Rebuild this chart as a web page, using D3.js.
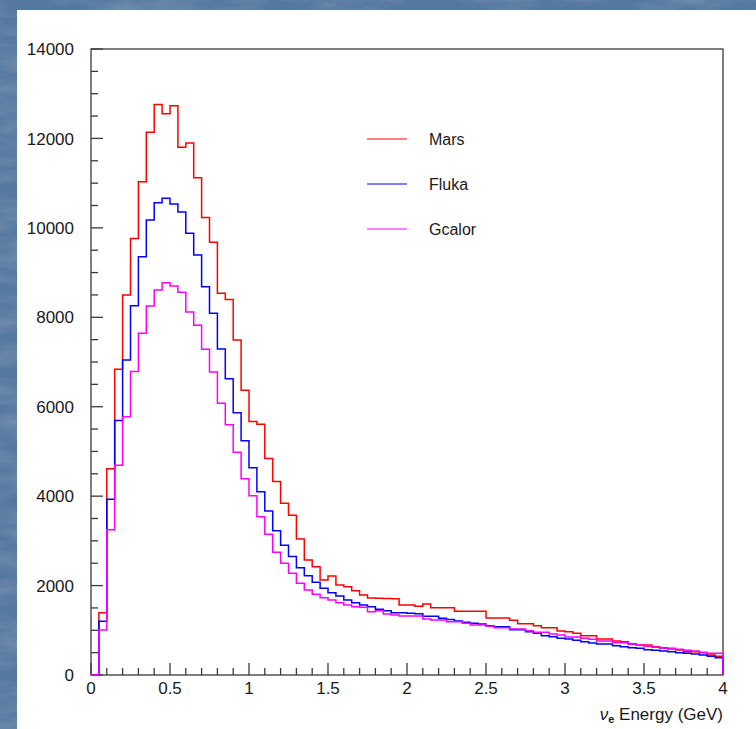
<!DOCTYPE html>
<html>
<head>
<meta charset="utf-8">
<script src="https://cdn.jsdelivr.net/npm/d3@7"></script>
<style>
  body { margin: 0; background: #5b7fa8; }
  #chart { width: 756px; height: 729px; }
  text { font-family: "Liberation Sans", Arial, sans-serif; fill: #1a1a1a; }
</style>
</head>
<body>
<div id="chart"></div>
<script>
// bins of 0.05 GeV from 0 to 4
const binWidth = 0.05;

const mars = [
  0, 1390, 4610, 6840, 8500, 9760, 11030, 12140, 12760, 12550,
  12730, 11800, 11900, 11120, 10230, 9680, 8540, 8400, 7490, 6370,
  5670, 5610, 4840, 4330, 3840, 3570, 3040, 2570, 2420, 2125,
  2214, 2013, 1975, 1885, 1789, 1720, 1715, 1710, 1705, 1565,
  1565, 1535, 1590, 1506, 1506, 1506, 1424, 1424, 1424, 1424,
  1275, 1275, 1275, 1223, 1148, 1148, 1103, 1058, 1058, 984,
  969, 931, 879, 879, 805, 805, 760, 745, 701, 671,
  671, 633, 611, 581, 559, 522, 522, 499, 447, 418
];

const fluka = [
  0, 1200, 3930, 5690, 7045, 8260, 9355, 10176, 10564, 10661,
  10534, 10355, 9878, 9393, 8685, 8089, 7291, 6627, 5867, 5240,
  4636, 4099, 3668, 3227, 2900, 2650, 2400, 2221, 2073, 1938,
  1841, 1767, 1677, 1617, 1565, 1528, 1469, 1439, 1394, 1390,
  1380, 1370, 1312, 1312, 1267, 1240, 1208, 1178, 1160, 1141,
  1103, 1081, 1081, 1014, 1014, 969, 932, 879, 857, 820,
  805, 775, 745, 716, 693, 693, 656, 633, 611, 596,
  566, 552, 537, 522, 499, 484, 470, 447, 418, 388
];

const gcalor = [
  0, 1006, 3250, 4690, 5777, 6789, 7642, 8253, 8611, 8775,
  8700, 8559, 8120, 7820, 7284, 6776, 6076, 5598, 4980, 4390,
  4010, 3541, 3150, 2745, 2499, 2275, 2051, 1901, 1804, 1729,
  1677, 1617, 1565, 1528, 1513, 1416, 1439, 1364, 1342, 1320,
  1320, 1320, 1252, 1230, 1230, 1193, 1193, 1156, 1118, 1118,
  1088, 1058, 1058, 1029, 1029, 991, 954, 954, 917, 894,
  850, 850, 820, 798, 760, 760, 723, 723, 686, 671,
  641, 619, 596, 596, 574, 552, 537, 507, 484, 484
];

const seriesNames = ["Mars", "Fluka", "Gcalor"];
const seriesColors = ["#ff0000", "#0000ff", "#ff00ff"];
const xTicks = [0, 0.5, 1, 1.5, 2, 2.5, 3, 3.5, 4];
const yTicks = [0, 2000, 4000, 6000, 8000, 10000, 12000, 14000];

const W = 756, H = 729;
const plot = { left: 91, right: 723, top: 49, bottom: 675 };

const svg = d3.select("#chart")
  .append("svg")
  .attr("width", W)
  .attr("height", H);

// textured slide background
const defs = svg.append("defs");
const f = defs.append("filter").attr("id", "grain")
  .attr("x", 0).attr("y", 0).attr("width", "100%").attr("height", "100%");
f.append("feTurbulence")
  .attr("type", "fractalNoise")
  .attr("baseFrequency", "0.015 0.06")
  .attr("numOctaves", 3)
  .attr("seed", 4);
f.append("feColorMatrix")
  .attr("values", "0 0 0 0 1  0 0 0 0 1  0 0 0 0 1  0 0 0 0.3 -0.1");

svg.append("rect").attr("width", W).attr("height", H).attr("fill", "#55789f");
svg.append("rect").attr("width", W).attr("height", H).attr("filter", "url(#grain)");

// white panel
svg.append("rect")
  .attr("x", 17).attr("y", 10)
  .attr("width", W - 17).attr("height", H - 10)
  .attr("fill", "#ffffff");

// Scales
const x = d3.scaleLinear().domain([0, 4]).range([plot.left, plot.right]);
const y = d3.scaleLinear().domain([0, 14000]).range([plot.bottom, plot.top]);

// Frame
svg.append("rect")
  .attr("x", plot.left).attr("y", plot.top)
  .attr("width", plot.right - plot.left)
  .attr("height", plot.bottom - plot.top)
  .attr("fill", "none")
  .attr("stroke", "#3a3a3a")
  .attr("stroke-width", 1.3);

// Y axis: major ticks every 2000, minor every 500, drawn inward
const yMinor = d3.range(0, 14001, 500);
svg.append("g")
  .selectAll("line")
  .data(yMinor)
  .join("line")
  .attr("x1", plot.left)
  .attr("x2", d => plot.left + (d % 2000 === 0 ? 12 : 7))
  .attr("y1", d => y(d))
  .attr("y2", d => y(d))
  .attr("stroke", "#3a3a3a")
  .attr("stroke-width", 1.3);

svg.append("g")
  .selectAll("text")
  .data(yTicks)
  .join("text")
  .attr("x", 74)
  .attr("y", d => y(d))
  .attr("dy", "0.36em")
  .attr("text-anchor", "end")
  .style("font-size", "17px")
  .text(d => d);

// X axis: major ticks every 0.5, minor every 0.1
const xMinor = d3.range(0, 41).map(i => i / 10);
svg.append("g")
  .selectAll("line")
  .data(xMinor)
  .join("line")
  .attr("x1", d => x(d))
  .attr("x2", d => x(d))
  .attr("y1", plot.bottom)
  .attr("y2", (d, i) => plot.bottom - (i % 5 === 0 ? 12 : 7))
  .attr("stroke", "#3a3a3a")
  .attr("stroke-width", 1.3);

svg.append("g")
  .selectAll("text")
  .data(xTicks)
  .join("text")
  .attr("x", d => x(d))
  .attr("y", 694)
  .attr("text-anchor", "middle")
  .style("font-size", "17px")
  .text(d => d);

// Axis title
const title = svg.append("text")
  .attr("x", plot.right)
  .attr("y", 720)
  .attr("text-anchor", "end")
  .style("font-size", "17px");
title.append("tspan").style("font-style", "italic").text("ν");
title.append("tspan").attr("dy", 3).style("font-size", "11px").style("font-weight", "bold").text("e");
title.append("tspan").attr("dy", -3).text(" Energy (GeV)");

// Histograms as step outlines
const line = d3.line()
  .x(d => x(d[0]))
  .y(d => y(d[1]))
  .curve(d3.curveStepAfter);

[mars, fluka, gcalor].forEach((vals, k) => {
  const pts = vals.map((v, i) => [i * binWidth, v]);
  pts.push([vals.length * binWidth, vals[vals.length - 1]]);
  pts.push([vals.length * binWidth, 0]);
  svg.append("path")
    .datum(pts)
    .attr("fill", "none")
    .attr("stroke", seriesColors[k])
    .attr("stroke-width", 1.5)
    .attr("d", line);
});

// Legend
const legend = svg.append("g");
seriesNames.forEach((name, k) => {
  const ly = 139 + k * 45;
  legend.append("line")
    .attr("x1", 367).attr("x2", 407)
    .attr("y1", ly).attr("y2", ly)
    .attr("stroke", seriesColors[k])
    .attr("stroke-width", 1.2);
  legend.append("text")
    .attr("x", 429)
    .attr("y", ly)
    .attr("dy", "0.36em")
    .style("font-size", "16px")
    .text(name);
});
</script>
</body>
</html>
